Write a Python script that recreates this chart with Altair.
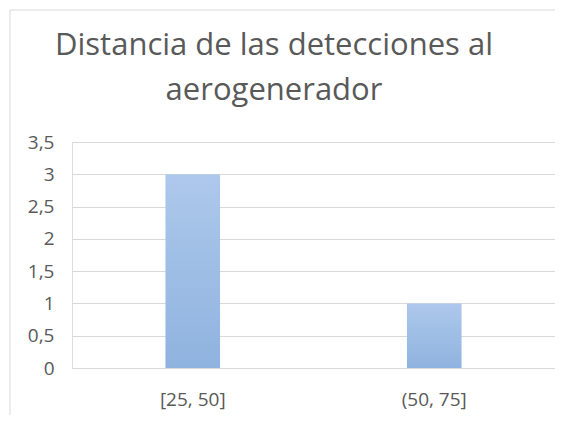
import altair as alt
import pandas as pd

categories = ["[25, 50]", "(50, 75]"]
counts = [3, 1]
y_ticks = [0, 0.5, 1, 1.5, 2, 2.5, 3, 3.5]
title_lines = ["Distancia de las detecciones al", "aerogenerador"]

df = pd.DataFrame({"cat": categories, "n": counts})
tdf = pd.DataFrame({"t": title_lines, "row": [0, 1]})

FONT = "Open Sans"
GREY = "#595959"

frame = alt.Chart(pd.DataFrame({"a": [0]})).mark_rect(
    fill=None, stroke="#d9d9d9", strokeWidth=1, clip=False
).encode(
    x=alt.value(-62), x2=alt.value(520), y=alt.value(-132), y2=alt.value(300)
)

title = alt.Chart(tdf).mark_text(
    font=FONT, fontSize=31, color=GREY, align="center", baseline="alphabetic"
).encode(
    text="t:N",
    x=alt.value(202),
    y=alt.Y("row:Q", scale=alt.Scale(domain=[0, 1], range=[-87, -42]), axis=None),
)

bars = alt.Chart(df).mark_bar(
    color=alt.Gradient(
        gradient="linear",
        stops=[alt.GradientStop(color="#adc8eb", offset=0),
               alt.GradientStop(color="#8fb3df", offset=1)],
        x1=0, x2=0, y1=0, y2=1,
    )
).encode(
    x=alt.X("cat:N", sort=categories, title=None,
            scale=alt.Scale(paddingInner=0.774, paddingOuter=0.387),
            axis=alt.Axis(labelAngle=0, labelFont=FONT, labelFontSize=19,
                          labelColor=GREY, ticks=False, domain=False,
                          labelPadding=22)),
    y=alt.Y("n:Q", title=None,
            scale=alt.Scale(domain=[0, 3.5], nice=False),
            axis=alt.Axis(values=y_ticks, format=",.1~f", labelFont=FONT,
                          labelFontSize=19, labelColor=GREY, ticks=False,
                          domain=False, gridColor="#d9d9d9", labelPadding=18,
                          labelExpr="replace(datum.label, '.', ',')")),
)

chart = alt.layer(frame, bars, title).resolve_scale(y="independent").properties(
    width=483,
    height=226,
    autosize=alt.AutoSizeParams(type="none"),
    padding={"left": 64, "top": 134, "right": 0, "bottom": 47},
).configure_view(stroke=None).configure(background="white")

chart.save("out.html", embed_options={"renderer": "svg", "actions": False})
